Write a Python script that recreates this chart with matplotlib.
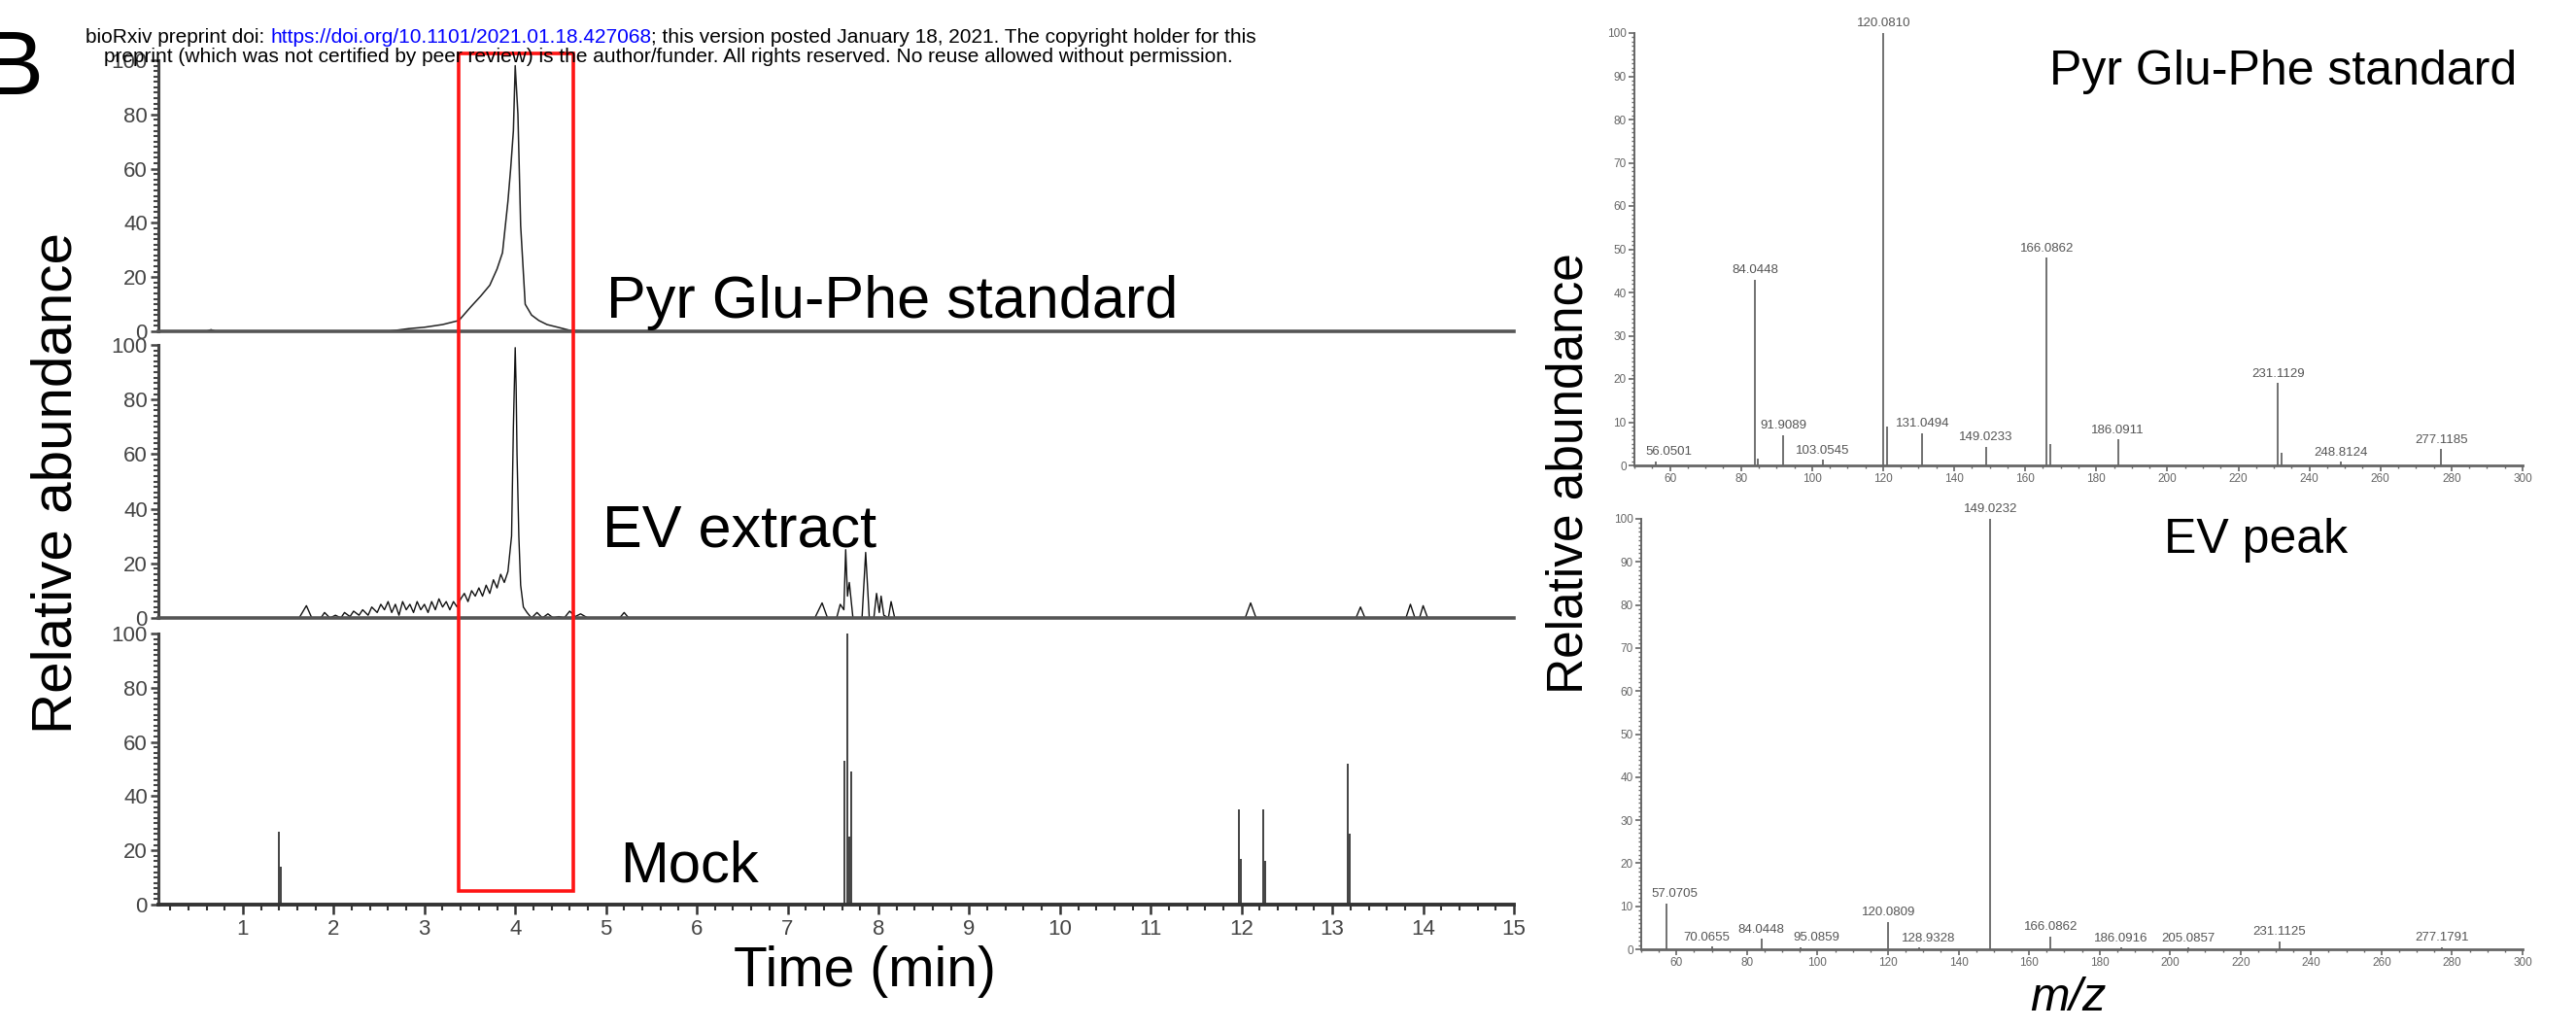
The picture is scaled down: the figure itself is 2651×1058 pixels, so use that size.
import matplotlib.pyplot as plt
from matplotlib.patches import Rectangle
from matplotlib.ticker import MultipleLocator

plt.rcParams['font.family'] = ['Liberation Sans', 'DejaVu Sans']

# ---- chromatograms: time (min) / relative abundance ----
std_time = [0.07, 0.60, 0.65, 0.70, 2.60, 2.83, 3.00, 3.10, 3.20, 3.38, 3.51, 3.62,
            3.72, 3.80, 3.86, 3.92, 3.95, 3.98, 4.00, 4.03, 4.06, 4.11, 4.18, 4.26,
            4.35, 4.47, 4.61, 4.80, 15.0]
std_int = [0, 0, 0.6, 0, 0, 1, 1.5, 2, 2.5, 4, 9, 13,
           17, 23, 29, 48, 60, 74, 98, 80, 39, 10, 6, 4,
           2.5, 1.5, 0.3, 0, 0]

ev_time = [0.07, 1.62, 1.70, 1.76, 1.86, 1.90, 1.96, 2.02, 2.08,
           2.12, 2.18, 2.22, 2.28, 2.32, 2.38, 2.42, 2.48, 2.52, 2.56,
           2.60, 2.64, 2.68, 2.72, 2.76, 2.80, 2.84, 2.88, 2.92, 2.96,
           3.00, 3.04, 3.08, 3.12, 3.16, 3.20, 3.24, 3.28, 3.32, 3.36,
           3.40, 3.44, 3.48, 3.52, 3.56, 3.60, 3.64, 3.68, 3.72, 3.76,
           3.80, 3.84, 3.88, 3.92, 3.96, 3.98, 4.00, 4.01, 4.02, 4.04,
           4.06, 4.09, 4.13, 4.18, 4.24, 4.30, 4.36, 4.42, 4.48, 4.54,
           4.60, 4.66, 4.72, 4.80, 5.15, 5.20, 5.25, 7.30, 7.38, 7.44,
           7.54, 7.58, 7.62, 7.64, 7.66, 7.68, 7.72, 7.82, 7.86, 7.90,
           7.95, 7.98, 8.01, 8.03, 8.06, 8.11, 8.14, 8.18, 12.04, 12.10,
           12.16, 13.26, 13.31, 13.36, 13.81, 13.86, 13.91, 13.96, 14.00, 14.05,
           15.00]
ev_int = [0, 0, 4.5, 0, 0, 2, 0, 1, 0,
          2, 0.5, 2.5, 1, 3, 1, 4, 2, 5, 3,
          6, 2, 5, 1, 6, 3, 5, 2, 6, 3,
          5, 2, 6, 3, 7, 4, 6, 3, 6, 4,
          7, 9, 6, 10, 8, 11, 8, 12, 9, 14,
          11, 16, 13, 17, 30, 70, 99, 85, 60, 30,
          12, 4, 2, 0, 2, 0, 1.5, 0, 0.5, 0,
          2.5, 0.5, 1.5, 0, 0, 2, 0, 0, 5.5, 0,
          0, 5, 3, 25, 8, 13, 0, 0, 24, 0,
          0, 9, 2, 8, 1, 0, 6, 0, 0, 5.5,
          0, 0, 4, 0, 0, 5, 0, 0, 4.5, 0,
          0]

mock_time = [1.40, 1.42, 7.63, 7.66, 7.68, 7.70, 11.97, 11.99, 12.24, 12.26, 13.17, 13.19]
mock_int = [27, 14, 53, 100, 25, 49, 35, 17, 35, 16, 52, 26]

time_ticks = list(range(1, 16))
abund_ticks = [0, 20, 40, 60, 80, 100]

# ---- MS/MS spectra: m/z / relative abundance ----
std_mz = [56.0501, 84.0448, 91.9089, 103.0545, 120.0810, 131.0494, 149.0233,
          166.0862, 186.0911, 231.1129, 248.8124, 277.1185]
std_ab = [1.0, 43, 7, 1.3, 100, 7.5, 4.3, 48, 6, 19, 0.8, 3.8]
std_small_mz = [84.8, 121.1, 167.0, 232.1]
std_small_ab = [1.5, 9, 5, 3]

ev_mz = [57.0705, 70.0655, 84.0448, 95.0859, 120.0809, 128.9328, 149.0232,
         166.0862, 186.0916, 205.0857, 231.1125, 277.1791]
ev_ab = [10.6, 0.6, 2.4, 0.5, 6.4, 0.4, 100, 3, 0.4, 0.4, 1.9, 0.5]

mz_ticks = list(range(60, 301, 20))
ms_ticks = list(range(0, 101, 10))

# label nudges (m/z units) so labels don't sit on the axis / each other
std_nudge = {56.0501: 3.5}
ev_nudge = {57.0705: 2.5, 70.0655: -1.5, 95.0859: 4.5, 128.9328: 2.5}

fig = plt.figure(figsize=(26.51, 10.58), dpi=100)
W, H = 2651, 1058


def box(x0, x1, y_top, y_bot):
    return [x0 / W, 1 - y_bot / H, (x1 - x0) / W, (y_bot - y_top) / H]


ax1 = fig.add_axes(box(163, 1558, 62, 341))
ax2 = fig.add_axes(box(163, 1558, 355, 636))
ax3 = fig.add_axes(box(163, 1558, 652, 931))
ax3.set_zorder(5)

for ax in (ax1, ax2, ax3):
    ax.set_xlim(0.07, 15)
    ax.set_ylim(0, 100)
    ax.spines['top'].set_visible(False)
    ax.spines['right'].set_visible(False)
    ax.spines['left'].set_color('#444')
    ax.spines['left'].set_linewidth(2.2)
    ax.set_yticks(abund_ticks)
    ax.yaxis.set_minor_locator(MultipleLocator(2))
    ax.tick_params(axis='y', which='major', length=6, width=1.8, color='#444',
                   labelsize=16, labelcolor='#444', pad=2)
    ax.tick_params(axis='y', which='minor', length=3.5, width=1.5, color='#444')

for ax in (ax1, ax2):
    ax.spines['bottom'].set_color('#555')
    ax.spines['bottom'].set_linewidth(2.6)
    ax.set_xticks([])
    ax.xaxis.set_minor_locator(plt.NullLocator())

ax3.spines['bottom'].set_color('#333')
ax3.spines['bottom'].set_linewidth(2.8)
ax3.set_xticks(time_ticks)
ax3.xaxis.set_minor_locator(MultipleLocator(0.2))
ax3.tick_params(axis='x', which='major', length=7, width=1.8, color='#333',
                labelsize=16, labelcolor='#444', pad=4)
ax3.tick_params(axis='x', which='minor', length=4, width=1.5, color='#333')

ax1.plot(std_time, std_int, color='#222', lw=1.1, clip_on=False)
ax2.plot(ev_time, ev_int, color='#111', lw=1.0, clip_on=False)
ax3.vlines(mock_time, 0, mock_int, color='#222', lw=1.2)

ax1.text(5.0, 5, 'Pyr Glu-Phe standard', fontsize=44, va='baseline', ha='left')
ax2.text(4.96, 26, 'EV extract', fontsize=44, va='baseline', ha='left')
ax3.text(5.15, 8.6, 'Mock', fontsize=43, va='baseline', ha='left')

ax3.add_patch(Rectangle((3.38, 5), 1.26, 309, fill=False, ec='#ff1414', lw=2.6,
                        clip_on=False, zorder=10))

fig.text(59 / W, 1 - 497 / H, 'Relative abundance', rotation=90, fontsize=42,
         ha='center', va='center')
fig.text(890 / W, 1 - 1015 / H, 'Time (min)', fontsize=41, ha='center', va='baseline')

# ---- right: spectra ----
ax4 = fig.add_axes(box(1682, 2596, 34, 479))
ax5 = fig.add_axes(box(1689, 2596, 534, 977))

for ax in (ax4, ax5):
    ax.set_xlim(50, 300)
    ax.set_ylim(0, 100)
    ax.spines['top'].set_visible(False)
    ax.spines['right'].set_visible(False)
    for s in ('left', 'bottom'):
        ax.spines[s].set_color('#666')
    ax.spines['left'].set_linewidth(1.4)
    ax.spines['bottom'].set_linewidth(2.0)
    ax.set_xticks(mz_ticks)
    ax.set_yticks(ms_ticks)
    ax.xaxis.set_minor_locator(MultipleLocator(5))
    ax.yaxis.set_minor_locator(MultipleLocator(1))
    ax.tick_params(which='major', length=4, width=1.2, color='#666',
                   labelsize=8.5, labelcolor='#666', pad=2)
    ax.tick_params(which='minor', length=2.5, width=1.0, color='#666')

ax4.vlines(std_mz, 0, std_ab, color='#666', lw=1.3)
ax4.vlines(std_small_mz, 0, std_small_ab, color='#666', lw=1.3)
for mz, ab in zip(std_mz, std_ab):
    ax4.text(mz + std_nudge.get(mz, 0), ab + 0.8, f'{mz:.4f}', fontsize=9.5,
             color='#555', ha='center', va='bottom', clip_on=False)

ax5.vlines(ev_mz, 0, ev_ab, color='#666', lw=1.3)
for mz, ab in zip(ev_mz, ev_ab):
    ax5.text(mz + ev_nudge.get(mz, 0), ab + 0.8, f'{mz:.4f}', fontsize=9.5,
             color='#555', ha='center', va='bottom', clip_on=False)

ax4.text(298.5, 88, 'Pyr Glu-Phe standard', fontsize=36, ha='right', va='baseline')
ax5.text(250.5, 92, 'EV peak', fontsize=36, ha='right', va='baseline')

fig.text(1615 / W, 1 - 487 / H, 'Relative abundance', rotation=90, fontsize=37,
         ha='center', va='center')
fig.text(2128 / W, 1 - 1040 / H, 'm/z', fontsize=35, style='italic',
         ha='center', va='baseline')

# ---- panel letter and preprint header ----
fig.text(44 / W, 1 - 97 / H, 'B', fontsize=67, ha='right', va='baseline')

ov = fig.add_axes([0, 0, 1, 1], zorder=20)
ov.axis('off')
ov.set_xlim(0, 1)
ov.set_ylim(0, 1)
h1 = ov.text(88 / W, 1 - 48 / H, 'bioRxiv preprint doi: ', fontsize=15, va='bottom')
h2 = ov.annotate('https://doi.org/10.1101/2021.01.18.427068', xy=(1, 0), xycoords=h1,
                 fontsize=15, color='#0000ff', va='bottom', ha='left')
ov.annotate('; this version posted January 18, 2021. The copyright holder for this',
            xy=(1, 0), xycoords=h2, fontsize=15, va='bottom', ha='left')
ov.text(107 / W, 1 - 68 / H,
        'preprint (which was not certified by peer review) is the author/funder. '
        'All rights reserved. No reuse allowed without permission.',
        fontsize=15, va='bottom')

fig.savefig('out.png', dpi=100)
